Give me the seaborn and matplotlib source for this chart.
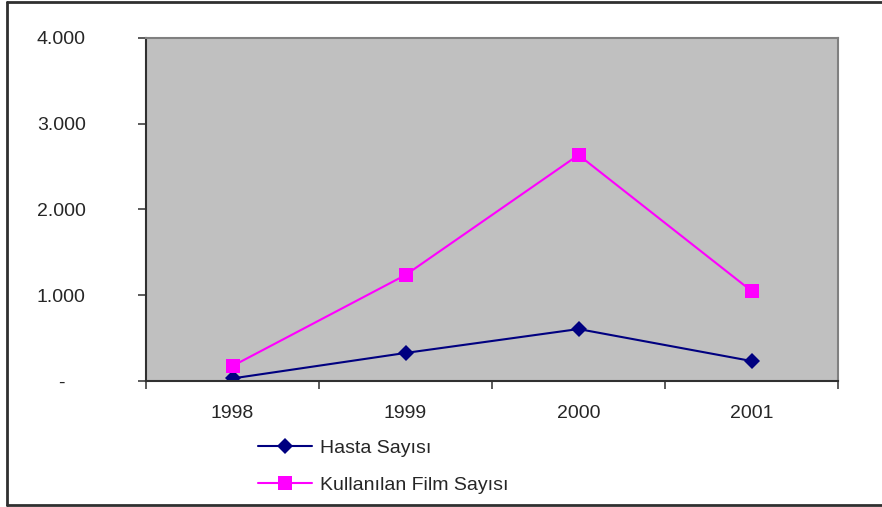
import numpy as np
import pandas as pd
import seaborn as sns
import matplotlib.pyplot as plt
from matplotlib.lines import Line2D
from matplotlib.ticker import FuncFormatter

# chart values
years = ["1998", "1999", "2000", "2001"]
hasta = [30, 327, 606, 233]
film = [175, 1236, 2636, 1050]
series_names = ["Hasta Sayısı", "Kullanılan Film Sayısı"]

df = pd.DataFrame({
    "Yil": years * 2,
    "Deger": hasta + film,
    "Seri": [series_names[0]] * 4 + [series_names[1]] * 4,
})

sns.set_style("white")
plt.rcParams["font.family"] = ["Liberation Sans", "DejaVu Sans"]

fig = plt.figure(figsize=(8.82, 5.07), dpi=100)
ax = fig.add_axes([146 / 882, 126 / 507, 692 / 882, 343 / 507])
ax.set_facecolor("#C0C0C0")

colors = {series_names[0]: "#000080", series_names[1]: "#FF00FF"}
markers = {series_names[0]: "D", series_names[1]: "s"}
sizes = {series_names[0]: 8.5, series_names[1]: 10}

for name in series_names:
    sub = df[df["Seri"] == name]
    sns.lineplot(data=sub, x="Yil", y="Deger", ax=ax, color=colors[name],
                 marker=markers[name], markersize=sizes[name], markeredgewidth=0,
                 linewidth=1.5, label=name, legend=False)

ax.set_xlim(-0.5, 3.5)
ax.set_ylim(0, 4000)
ax.set_yticks([0, 1000, 2000, 3000, 4000])
ax.yaxis.set_major_formatter(FuncFormatter(
    lambda v, p: "-" if v == 0 else f"{int(v):,}".replace(",", ".")))
ax.set_xticks(range(len(years)))
ax.set_xticklabels(years)
ax.set_xticks(np.arange(-0.5, 4.0, 1.0), minor=True)
ax.tick_params(axis="x", which="major", length=0, pad=17, labelsize=14)
ax.tick_params(axis="x", which="minor", length=6, width=1.2, color="#404040",
               direction="out", bottom=True)
ax.tick_params(axis="y", length=6, width=1.2, color="#404040", direction="out",
               left=True, pad=55, labelsize=14)
for lbl in ax.get_yticklabels():
    lbl.set_horizontalalignment("center")
ax.set_xlabel("")
ax.set_ylabel("")
for s in ["left", "bottom"]:
    ax.spines[s].set_color("#303030")
    ax.spines[s].set_linewidth(1.5)
for s in ["top", "right"]:
    ax.spines[s].set_color("#808080")
    ax.spines[s].set_linewidth(1.5)

handles = [Line2D([], [], color=colors[n], marker=markers[n],
                  markersize=sizes[n], markeredgewidth=0, linewidth=1.5)
           for n in series_names]
fig.legend(handles, series_names, loc="upper left",
           bbox_to_anchor=(240 / 882, 1 - 422 / 507), frameon=False,
           fontsize=14, handlelength=2.8, labelspacing=1.0, handletextpad=0.4)

# outer frame (left, top, bottom)
fig.add_artist(Line2D([7 / 882, 7 / 882], [2 / 507, 1 - 2 / 507],
                      color="#303030", linewidth=2, transform=fig.transFigure))
fig.add_artist(Line2D([7 / 882, 1], [1 - 2 / 507, 1 - 2 / 507],
                      color="#303030", linewidth=2, transform=fig.transFigure))
fig.add_artist(Line2D([7 / 882, 1], [2 / 507, 2 / 507],
                      color="#303030", linewidth=2, transform=fig.transFigure))

fig.savefig("out.png", dpi=100)
